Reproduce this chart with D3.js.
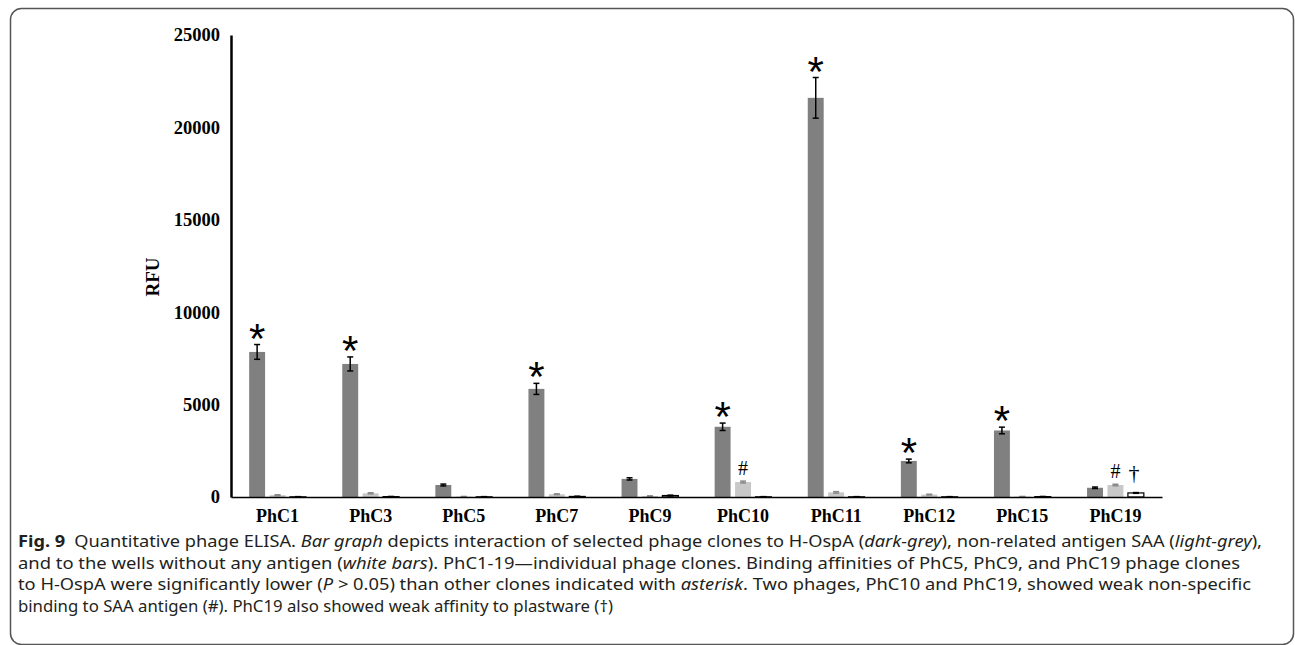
<!DOCTYPE html>
<html>
<head>
<meta charset="utf-8">
<script src="https://cdn.jsdelivr.net/npm/d3@7"></script>
<style>
  body { margin: 0; background: #fff; }
  .tick text { font-family: "Liberation Serif", "Times New Roman", serif; font-weight: bold; fill: #000; }
  .caption { font-family: "Noto Sans", sans-serif; fill: #231f20; }
</style>
</head>
<body>
<div id="chartDiv"></div>
<script>
var width = 1295,
    height = 645;

//chart values
var clones = ["PhC1", "PhC3", "PhC5", "PhC7", "PhC9", "PhC10", "PhC11", "PhC12", "PhC15", "PhC19"];
var ospA = [7850, 7200, 650, 5850, 980, 3800, 21600, 1950, 3600, 500];
var ospAErr = [400, 380, 50, 300, 60, 200, 1100, 100, 180, 40];
var saa = [100, 200, 20, 150, 50, 810, 250, 130, 20, 650];
var saaErr = [20, 30, 10, 20, 10, 50, 40, 20, 10, 40];
var noAntigen = [10, 20, 10, 30, 80, 10, 10, 10, 20, 220];
var noAntigenErr = [10, 10, 10, 10, 20, 10, 10, 10, 10, 20];
var yTicks = [0, 5000, 10000, 15000, 20000, 25000];
var starred = ["PhC1", "PhC3", "PhC7", "PhC10", "PhC11", "PhC12", "PhC15"];
var hashed = ["PhC10", "PhC19"];
var daggered = ["PhC19"];

var captionLines = [
  [["Fig. 9", "b"], ["\u2002Quantitative phage ELISA. ", ""], ["Bar graph", "i"], [" depicts interaction of selected phage clones to H-OspA (", ""], ["dark-grey", "i"], ["), non-related antigen SAA (", ""], ["light-grey", "i"], ["),", ""]],
  [["and to the wells without any antigen (", ""], ["white bars", "i"], ["). PhC1-19\u2014individual phage clones. Binding affinities of PhC5, PhC9, and PhC19 phage clones", ""]],
  [["to H-OspA were significantly lower (", ""], ["P", "i"], [" > 0.05) than other clones indicated with ", ""], ["asterisk", "i"], [". Two phages, PhC10 and PhC19, showed weak non-specific", ""]],
  [["binding to SAA antigen (#). PhC19 also showed weak affinity to plastware (\u2020)", ""]]
];
var captionWidths = [1244, 1222, 1233, 595];

var series = [
  {key: "ospA", values: ospA, err: ospAErr, fill: "#808080", stroke: "none", errColor: "#000"},
  {key: "saa", values: saa, err: saaErr, fill: "#c8c8c8", stroke: "none", errColor: "#8a8a8a"},
  {key: "none", values: noAntigen, err: noAntigenErr, fill: "#fff", stroke: "#000", errColor: "#000"}
];

var svg = d3.select("#chartDiv").append("svg")
  .attr("width", width)
  .attr("height", height);

//rounded frame
svg.append("rect")
  .attr("x", 10.5)
  .attr("y", 8.5)
  .attr("width", 1283)
  .attr("height", 636)
  .attr("rx", 11)
  .attr("fill", "none")
  .attr("stroke", "#555")
  .attr("stroke-width", 1.5);

//scales
var xScale = d3.scaleBand()
  .domain(clones)
  .range([231, 1162]);

var xInner = d3.scaleBand()
  .domain(series.map(function(s) { return s.key }))
  .range([xScale.bandwidth() * 0.195, xScale.bandwidth() * 0.805])
  .paddingInner(0.22);

var yScale = d3.scaleLinear()
  .domain([0, 25000])
  .range([497, 35]);

//bars
var groups = svg.append("g").attr("id", "bars")
  .selectAll("g")
  .data(series)
  .enter().append("g");

groups.selectAll("rect")
  .data(function(s) {
    return clones.map(function(c, i) { return {clone: c, v: s.values[i], e: s.err[i], s: s} })
  })
  .enter().append("rect")
    .attr("x", function(d) { return xScale(d.clone) + xInner(d.s.key) })
    .attr("y", function(d) { return yScale(d.v) })
    .attr("width", xInner.bandwidth())
    .attr("height", function(d) { return yScale(0) - yScale(d.v) })
    .attr("fill", function(d) { return d.s.fill })
    .attr("stroke", function(d) { return d.s.stroke })
    .attr("stroke-width", 1.2);

//error bars
var errs = groups.selectAll("g.err")
  .data(function(s) {
    return clones.map(function(c, i) { return {clone: c, v: s.values[i], e: s.err[i], s: s} })
  })
  .enter().append("g")
    .attr("class", "err")
    .attr("stroke", function(d) { return d.s.errColor })
    .attr("stroke-width", 1.5)
    .attr("transform", function(d) {
      return "translate(" + (xScale(d.clone) + xInner(d.s.key) + xInner.bandwidth() / 2) + ",0)"
    });

errs.append("line")
  .attr("y1", function(d) { return yScale(d.v + d.e) })
  .attr("y2", function(d) { return yScale(Math.max(0, d.v - d.e)) });
errs.append("line")
  .attr("x1", -3).attr("x2", 3)
  .attr("y1", function(d) { return yScale(d.v + d.e) })
  .attr("y2", function(d) { return yScale(d.v + d.e) });
errs.append("line")
  .attr("x1", -3).attr("x2", 3)
  .attr("y1", function(d) { return yScale(Math.max(0, d.v - d.e)) })
  .attr("y2", function(d) { return yScale(Math.max(0, d.v - d.e)) });

//significance marks
function markPos(clone, s) {
  var i = clones.indexOf(clone);
  return {
    x: xScale(clone) + xInner(s.key) + xInner.bandwidth() / 2,
    top: yScale(s.values[i] + s.err[i])
  }
}

svg.append("g").selectAll("text")
  .data(starred)
  .enter().append("text")
    .attr("x", function(c) { return markPos(c, series[0]).x })
    .attr("y", function(c) { return markPos(c, series[0]).top + 8 })
    .attr("text-anchor", "middle")
    .style("font-family", "'Liberation Sans', Arial, sans-serif")
    .style("font-size", "42px")
    .text("*");

svg.append("g").selectAll("text")
  .data(hashed)
  .enter().append("text")
    .attr("x", function(c) { return markPos(c, series[1]).x })
    .attr("y", function(c) { return markPos(c, series[1]).top - 6 })
    .attr("text-anchor", "middle")
    .style("font-family", "'Liberation Serif', serif")
    .style("font-size", "20px")
    .text("#");

svg.append("g").selectAll("text")
  .data(daggered)
  .enter().append("text")
    .attr("x", function(c) { return markPos(c, series[2]).x - 2 })
    .attr("y", function(c) { return markPos(c, series[2]).top - 13 })
    .attr("text-anchor", "middle")
    .style("font-family", "'Liberation Serif', serif")
    .style("font-size", "22px")
    .text("\u2020");

//axes
var yAxisCall = d3.axisLeft(yScale)
  .tickValues(yTicks)
  .tickFormat(d3.format("d"))
  .tickSize(0)
  .tickSizeOuter(0)
  .tickPadding(11);
var yAxis = svg.append("g")
  .attr("class", "y-axis")
  .attr("transform", "translate(231,0)")
  .call(yAxisCall);
yAxis.select(".domain").attr("stroke-width", 2.5);
yAxis.selectAll(".tick text").style("font-size", "18.5px");

var xAxisCall = d3.axisBottom(xScale)
  .tickSize(0)
  .tickSizeOuter(0)
  .tickPadding(12);
var xAxis = svg.append("g")
  .attr("class", "x-axis")
  .attr("transform", "translate(0," + yScale(0) + ")")
  .call(xAxisCall);
xAxis.select(".domain").attr("stroke-width", 1.6);
xAxis.selectAll(".tick text").style("font-size", "18px");

//axis title
svg.append("text")
  .attr("transform", "translate(159,277) rotate(-90)")
  .attr("text-anchor", "middle")
  .style("font-family", "'Liberation Serif', serif")
  .style("font-weight", "bold")
  .style("font-size", "19px")
  .text("RFU");

//caption
var caption = svg.append("g").attr("class", "caption");
captionLines.forEach(function(parts, li) {
  var t = caption.append("text")
    .attr("x", 18)
    .attr("y", 547 + li * 21.7)
    .attr("textLength", captionWidths[li])
    .attr("lengthAdjust", "spacingAndGlyphs")
    .style("font-size", "16px");
  parts.forEach(function(p) {
    var ts = t.append("tspan").text(p[0]);
    if (p[1] == "b") ts.style("font-weight", "bold");
    if (p[1] == "i") ts.style("font-style", "italic");
  });
});
</script>
</body>
</html>
